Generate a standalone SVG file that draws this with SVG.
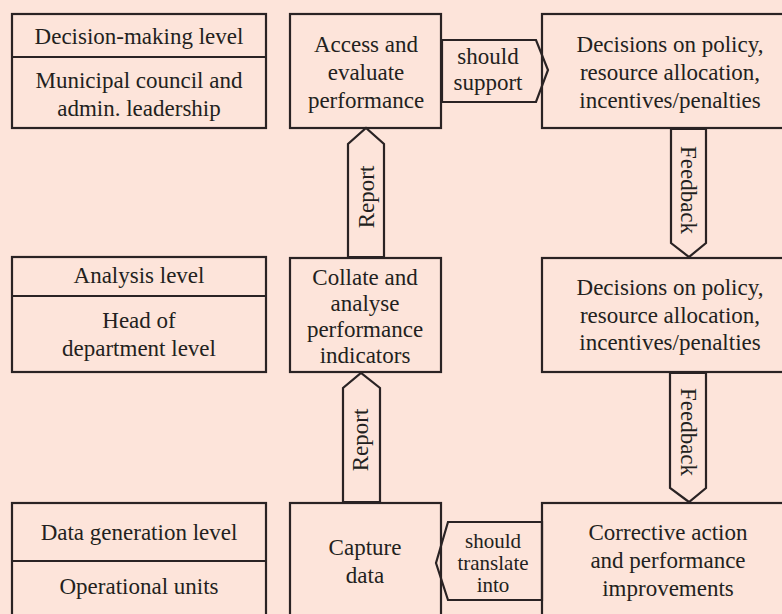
<svg xmlns="http://www.w3.org/2000/svg" width="782" height="614" viewBox="0 0 782 614" font-family="'Liberation Serif', 'DejaVu Serif', 'Times New Roman', serif">
<style>
.bx{fill:none;stroke:#2a2324;stroke-width:2.2}
.ar{fill:#fde4da;stroke:#2a2324;stroke-width:2.2;stroke-linejoin:miter}
.t{font-family:'Liberation Serif','DejaVu Serif','Times New Roman',serif;font-size:23px;fill:#231f20;text-anchor:middle}
.s{font-size:21px}
</style>
<rect x="0" y="0" width="782" height="614" fill="#fde4da"/>
<g id="connectors">
<polygon class="ar" points="442,40 536,40 548,70 536,102 442,102"/>
<polygon class="ar" points="348,257 348,144 366,128 384,144 384,257"/>
<polygon class="ar" points="671,129 706,129 706,243 689,257 671,243"/>
<polygon class="ar" points="343,502 343,388 361,373 380,388 380,502"/>
<polygon class="ar" points="670,373 706,373 706,488 689,502 670,488"/>
<polygon class="ar" points="542,522 448,522 436,563 448,600 542,600"/>
<text class="t" x="488" y="64">should</text>
<text class="t" x="488" y="90">support</text>
<text class="t s" x="493" y="548">should</text>
<text class="t s" x="493" y="570">translate</text>
<text class="t s" x="493" y="592">into</text>
<text class="t" transform="translate(374,197) rotate(-90)">Report</text>
<text class="t" transform="translate(368,440) rotate(-90)">Report</text>
<text class="t" transform="translate(681,190) rotate(90)">Feedback</text>
<text class="t" transform="translate(681,432) rotate(90)">Feedback</text>
</g>
<g id="level-decision">
<rect class="bx" x="12" y="14" width="254" height="114"/>
<line class="bx" x1="12" y1="57" x2="266" y2="57"/>
<text class="t" x="139" y="44">Decision-making level</text>
<text class="t" x="139" y="88">Municipal council and</text>
<text class="t" x="139" y="116">admin. leadership</text>
</g>
<g id="assess">
<rect class="bx" x="290" y="14" width="151" height="114"/>
<text class="t" x="366" y="52">Access and</text>
<text class="t" x="366" y="80">evaluate</text>
<text class="t" x="366" y="108">performance</text>
</g>
<g id="decisions-1">
<rect class="bx" x="542" y="14" width="260" height="114"/>
<text class="t" x="670" y="52">Decisions on policy,</text>
<text class="t" x="670" y="80">resource allocation,</text>
<text class="t" x="670" y="108">incentives/penalties</text>
</g>
<g id="level-analysis">
<rect class="bx" x="12" y="257" width="254" height="115"/>
<line class="bx" x1="12" y1="296" x2="266" y2="296"/>
<text class="t" x="139" y="283">Analysis level</text>
<text class="t" x="139" y="328">Head of</text>
<text class="t" x="139" y="356">department level</text>
</g>
<g id="collate">
<rect class="bx" x="290" y="258" width="151" height="114"/>
<text class="t" x="365" y="285">Collate and</text>
<text class="t" x="365" y="311">analyse</text>
<text class="t" x="365" y="337">performance</text>
<text class="t" x="365" y="363">indicators</text>
</g>
<g id="decisions-2">
<rect class="bx" x="542" y="258" width="260" height="114"/>
<text class="t" x="670" y="295">Decisions on policy,</text>
<text class="t" x="670" y="323">resource allocation,</text>
<text class="t" x="670" y="350">incentives/penalties</text>
</g>
<g id="level-data">
<rect class="bx" x="12" y="503" width="254" height="130"/>
<line class="bx" x1="12" y1="561" x2="266" y2="561"/>
<text class="t" x="139" y="540">Data generation level</text>
<text class="t" x="139" y="594">Operational units</text>
</g>
<g id="capture">
<rect class="bx" x="290" y="503" width="151" height="130"/>
<text class="t" x="365" y="555">Capture</text>
<text class="t" x="365" y="583">data</text>
</g>
<g id="corrective">
<rect class="bx" x="542" y="503" width="260" height="130"/>
<text class="t" x="668" y="540">Corrective action</text>
<text class="t" x="668" y="568">and performance</text>
<text class="t" x="668" y="596">improvements</text>
</g>
</svg>
